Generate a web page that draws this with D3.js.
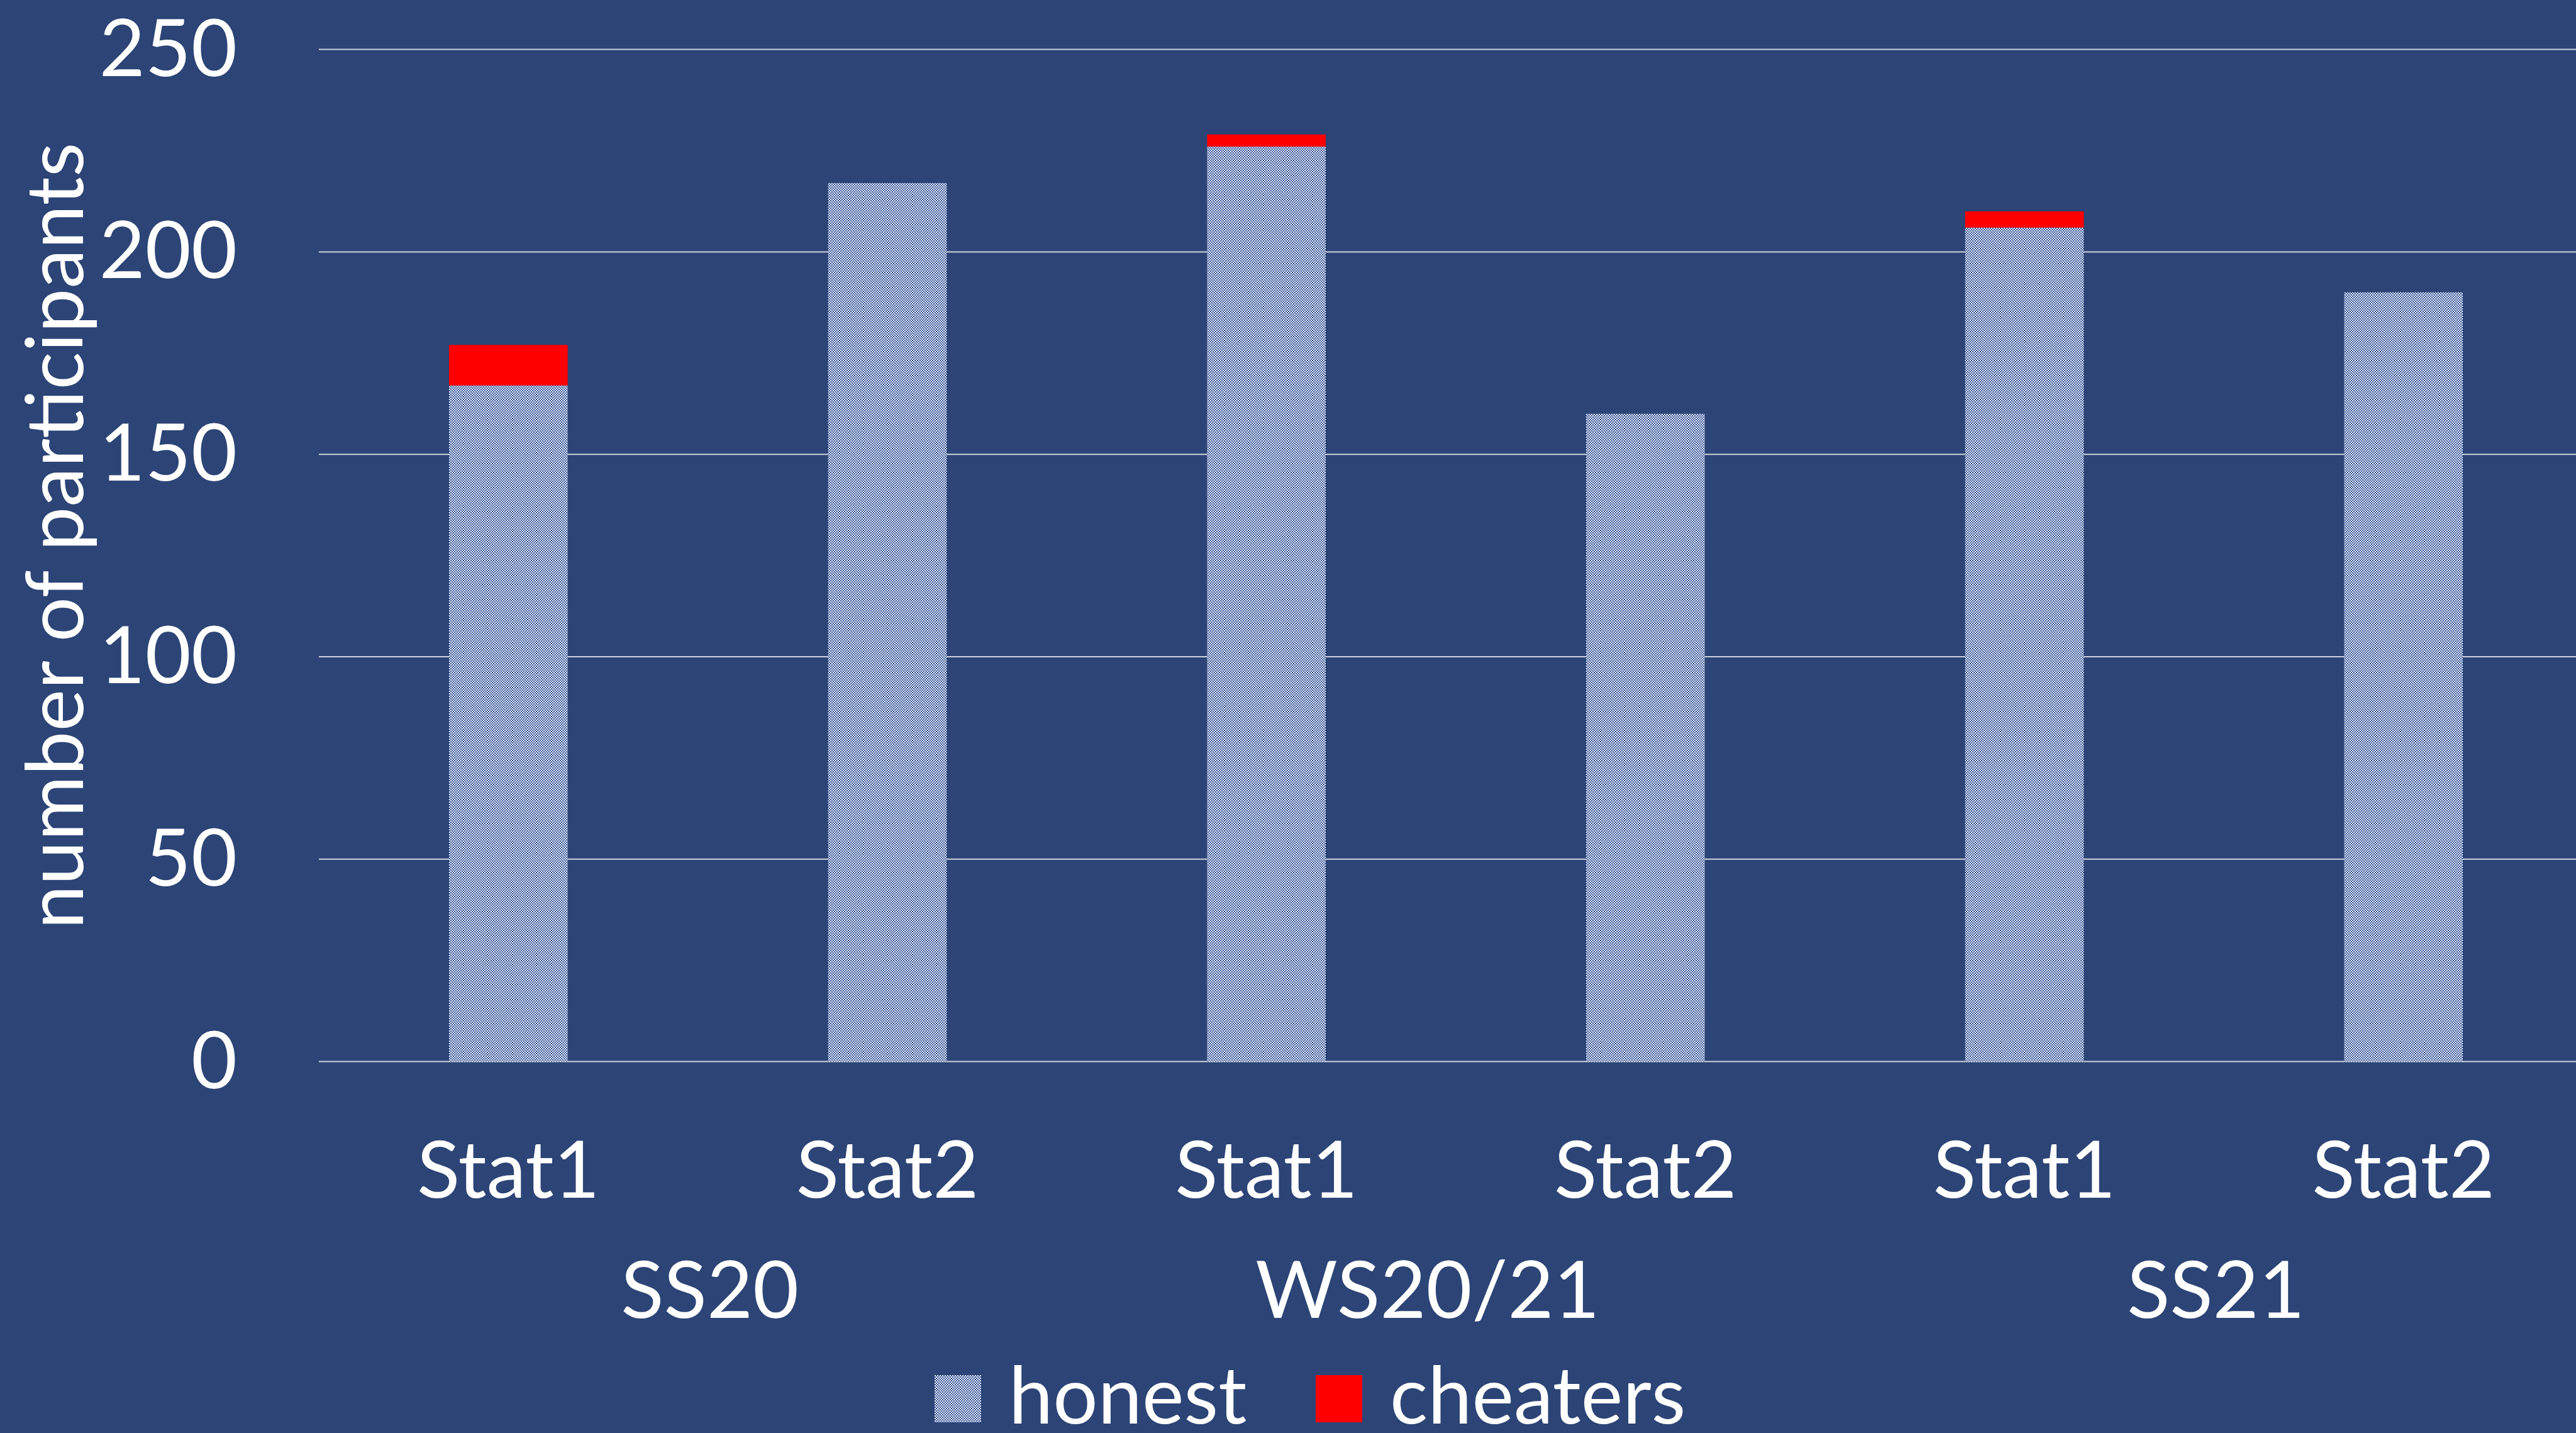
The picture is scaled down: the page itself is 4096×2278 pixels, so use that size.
<!DOCTYPE html>
<html>
<head>
<meta charset="utf-8">
<script src="https://cdn.jsdelivr.net/npm/d3@7"></script>
<style>
  html, body { margin: 0; padding: 0; background: #2c4476; overflow: hidden; }
  svg { display: block; }
  text { font-family: Lato, "Open Sans", sans-serif; fill: #ffffff; }
</style>
</head>
<body>
<div id="chart"></div>
<script>
// participants per course, stacked: honest + cheaters
const semesters = ['SS20', 'WS20/21', 'SS21'];
const courses = ['Stat1', 'Stat2'];
const honest = [167, 217, 226, 160, 206, 190];
const cheaters = [10, 0, 3, 0, 4, 0];
const yTicks = [0, 50, 100, 150, 200, 250];
const seriesNames = ['honest', 'cheaters'];

// small nudges for the semester labels (as placed in the original)
const groupLabelShift = [19, -45, 3];

const width = 4096;
const height = 2278;
const plot = { left: 507, right: 4123, top: 78.6, bottom: 1687.5 };
const fontSize = 126;

const rows = [];
semesters.forEach((s, si) => {
    courses.forEach((c, ci) => {
        const i = si * courses.length + ci;
        rows.push({ key: s + '|' + c, semester: s, course: c, honest: honest[i], cheaters: cheaters[i] });
    });
});

const svg = d3.select('#chart')
    .append('svg')
    .attr('width', width)
    .attr('height', height);

svg.append('rect')
    .attr('width', width)
    .attr('height', height)
    .attr('fill', '#2c4476');

// checkerboard fill used by the honest bars
const defs = svg.append('defs');
const pat = defs.append('pattern')
    .attr('id', 'checker')
    .attr('patternUnits', 'userSpaceOnUse')
    .attr('width', 4)
    .attr('height', 4);
pat.append('rect').attr('width', 4).attr('height', 4).attr('fill', '#33539a');
pat.append('rect').attr('x', 0).attr('y', 0).attr('width', 2).attr('height', 2).attr('fill', '#eef0f5');
pat.append('rect').attr('x', 2).attr('y', 2).attr('width', 2).attr('height', 2).attr('fill', '#eef0f5');

const x = d3.scaleBand()
    .domain(rows.map(d => d.key))
    .range([plot.left, plot.right])
    .paddingInner(0.687)
    .paddingOuter(0.3435);

const y = d3.scaleLinear()
    .domain([0, 250])
    .range([plot.bottom, plot.top]);

const colors = { honest: 'url(#checker)', cheaters: '#ff0000' };

// gridlines
svg.append('g')
    .attr('class', 'grid')
    .selectAll('line')
    .data(yTicks)
    .enter()
    .append('line')
    .attr('x1', plot.left)
    .attr('x2', width)
    .attr('y1', d => y(d))
    .attr('y2', d => y(d))
    .attr('stroke', '#cfd3db')
    .attr('stroke-width', 2);

// stacked bars
const stacked = d3.stack().keys(seriesNames)(rows);

svg.append('g')
    .selectAll('g')
    .data(stacked)
    .enter()
    .append('g')
    .attr('fill', d => colors[d.key])
    .selectAll('rect')
    .data(d => d)
    .enter()
    .append('rect')
    .attr('x', d => x(d.data.key))
    .attr('y', d => y(d[1]))
    .attr('width', x.bandwidth())
    .attr('height', d => y(d[0]) - y(d[1]));

// y axis labels
const yAxis = svg.append('g')
    .attr('transform', `translate(${plot.left},0)`)
    .call(d3.axisLeft(y).tickValues(yTicks).tickSize(0).tickPadding(130));
yAxis.select('.domain').remove();
yAxis.selectAll('text')
    .attr('dy', '0.33em')
    .style('font-size', fontSize + 'px')
    .style('font-family', 'Lato, sans-serif')
    .attr('fill', '#ffffff');

// x axis, course labels
const xAxis = svg.append('g')
    .attr('transform', `translate(0,${plot.bottom})`)
    .call(d3.axisBottom(x).tickSize(0).tickFormat(k => k.split('|')[1]));
xAxis.select('.domain').remove();
xAxis.selectAll('text')
    .attr('y', 216)
    .attr('dy', 0)
    .style('font-size', fontSize + 'px')
    .style('font-family', 'Lato, sans-serif')
    .attr('fill', '#ffffff');

// semester labels under each pair
svg.append('g')
    .selectAll('text')
    .data(semesters)
    .enter()
    .append('text')
    .attr('x', (s, i) => {
        const keys = rows.filter(r => r.semester === s).map(r => x(r.key) + x.bandwidth() / 2);
        return d3.mean(keys) + groupLabelShift[i];
    })
    .attr('y', 2094.5)
    .attr('text-anchor', 'middle')
    .style('font-size', fontSize + 'px')
    .text(s => s);

// y axis title
svg.append('text')
    .attr('transform', 'translate(132,852) rotate(-90)')
    .attr('text-anchor', 'middle')
    .style('font-size', fontSize + 'px')
    .text('number of participants');

// legend
const legendX = [1486, 2092];
const legend = svg.append('g')
    .selectAll('g')
    .data(seriesNames)
    .enter()
    .append('g')
    .attr('transform', (d, i) => `translate(${legendX[i]},2186)`);

legend.append('rect')
    .attr('width', 74)
    .attr('height', 75)
    .attr('fill', d => colors[d]);

legend.append('text')
    .attr('x', 118)
    .attr('y', 77)
    .style('font-size', fontSize + 'px')
    .text(d => d);
</script>
</body>
</html>
